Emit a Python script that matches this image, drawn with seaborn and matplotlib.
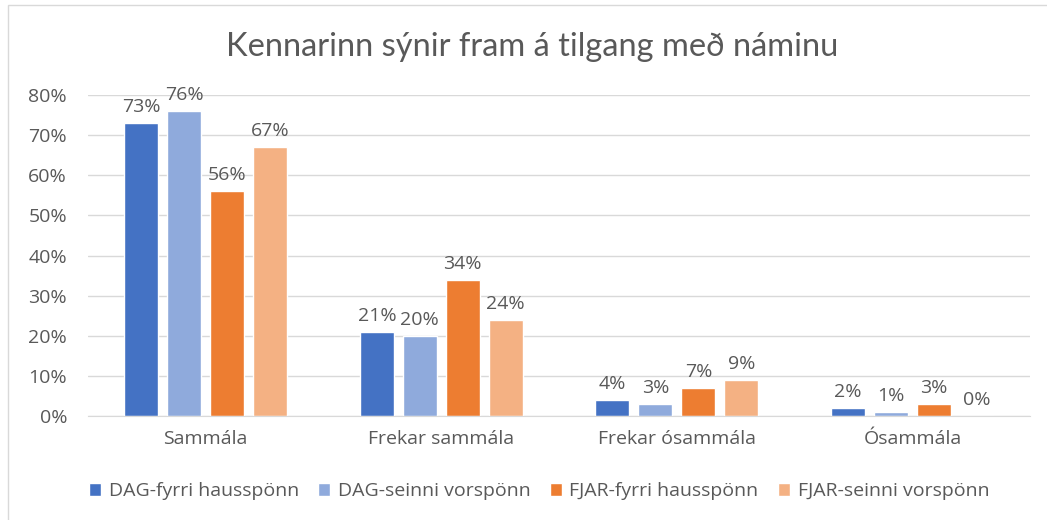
import matplotlib
matplotlib.use("Agg")
import matplotlib.pyplot as plt
import seaborn as sns
import pandas as pd
from matplotlib.patches import Rectangle
from matplotlib.ticker import PercentFormatter

# gögn lesin af myndinni
categories = ["Sammála", "Frekar sammála", "Frekar ósammála", "Ósammála"]
series = ["DAG-fyrri hausspönn", "DAG-seinni vorspönn",
          "FJAR-fyrri hausspönn", "FJAR-seinni vorspönn"]
dag_fyrri = [0.73, 0.21, 0.04, 0.02]
dag_seinni = [0.76, 0.20, 0.03, 0.01]
fjar_fyrri = [0.56, 0.34, 0.07, 0.03]
fjar_seinni = [0.67, 0.24, 0.09, 0.00]
colors = ["#4472C4", "#8FAADC", "#ED7D31", "#F4B183"]

rows = []
for name, vals in zip(series, [dag_fyrri, dag_seinni, fjar_fyrri, fjar_seinni]):
    for cat, v in zip(categories, vals):
        rows.append({"flokkur": cat, "hópur": name, "hlutfall": v})
df = pd.DataFrame(rows)

sns.set_style("white")
plt.rcParams["font.family"] = ["Open Sans", "DejaVu Sans"]
text_color = "#595959"

fig = plt.figure(figsize=(10.47, 5.2), dpi=100)
ax = fig.add_axes([0.084, 0.2, 0.9, 0.617])

sns.barplot(data=df, x="flokkur", y="hlutfall", hue="hópur",
            palette=colors, saturation=1, width=0.73, gap=0.21, ax=ax,
            legend=True)

for cont in ax.containers:
    ax.bar_label(cont, labels=[f"{v * 100:.0f}%" for v in cont.datavalues],
                 padding=5, fontsize=14, color=text_color)

ax.set_ylim(0, 0.8)
ax.set_xlim(-0.5, 3.5)
ax.yaxis.set_major_formatter(PercentFormatter(1.0, decimals=0))
ax.set_yticks([i / 10 for i in range(9)])
ax.grid(axis="y", color="#D9D9D9", linewidth=1)
ax.set_axisbelow(True)
for s in ["top", "right", "left"]:
    ax.spines[s].set_visible(False)
ax.spines["bottom"].set_color("#D9D9D9")
ax.tick_params(axis="both", length=0, labelsize=14, labelcolor=text_color)
ax.tick_params(axis="y", pad=15)
ax.tick_params(axis="x", pad=10)
ax.set_xlabel("")
ax.set_ylabel("")

fig.text(0.508, 0.91, "Kennarinn sýnir fram á tilgang með náminu",
         ha="center", va="center", fontsize=23.5, color=text_color,
         family=["Lato", "DejaVu Sans"])

handles, labels = ax.get_legend_handles_labels()
ax.legend_.remove()
fig.legend(handles, labels, loc="center", bbox_to_anchor=(0.515, 0.055),
           ncol=4, frameon=False, fontsize=14, handlelength=0.6,
           handleheight=0.6, handletextpad=0.4, columnspacing=1.0,
           labelcolor=text_color)

fig.patches.append(Rectangle((0.008, -0.01), 1.1, 1.0, transform=fig.transFigure,
                             fill=False, edgecolor="#D9D9D9", linewidth=1))

fig.savefig("out.png", dpi=100)
